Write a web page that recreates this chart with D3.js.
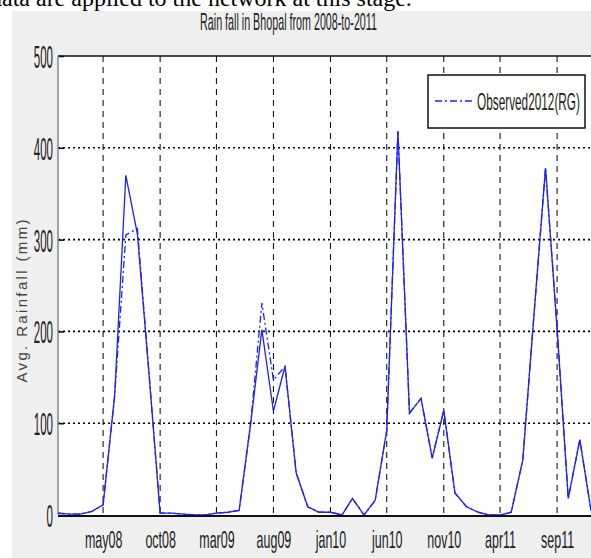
<!DOCTYPE html>
<html>
<head>
<meta charset="utf-8">
<script src="https://cdn.jsdelivr.net/npm/d3@7"></script>
<style>
  body { margin: 0; background: #fff; overflow: hidden; }
  svg { display: block; }
</style>
</head>
<body>
<div id="chart"></div>
<script>
//----------------------------- DATA -----------------------------//
// monthly rainfall, Jan 2008 .. Dec 2011
const startMonth = new Date(2008, 0, 1);
const months = d3.timeMonth.range(startMonth, new Date(2012, 0, 1));

const observed = [
  2, 1, 1, 4, 11, 130, 305, 312, 155, 2, 2, 1,        // 2008
  0, 0, 2, 3, 5, 100, 231, 147, 162, 46, 9, 3,         // 2009
  3, 0, 18, 0, 16, 92, 418, 111, 127, 62, 114, 24,     // 2010
  9, 3, 0, 0, 3, 60, 218, 378, 203, 18, 82, 5          // 2011
];
const simulated = [
  2, 1, 1, 4, 11, 130, 370, 306, 155, 2, 2, 1,
  0, 0, 2, 3, 5, 100, 202, 113, 162, 46, 9, 3,
  3, 0, 18, 0, 16, 92, 418, 111, 127, 62, 114, 24,
  9, 3, 0, 0, 3, 60, 218, 378, 203, 18, 82, 5
];

const tickLabels = ["may08", "oct08", "mar09", "aug09", "jan10", "jun10", "nov10", "apr11", "sep11"];
const tickDates = [new Date(2008, 4, 1), new Date(2008, 9, 1), new Date(2009, 2, 1), new Date(2009, 7, 1),
  new Date(2010, 0, 1), new Date(2010, 5, 1), new Date(2010, 10, 1), new Date(2011, 3, 1), new Date(2011, 8, 1)];
const yTicks = [0, 100, 200, 300, 400, 500];

const titleText = "Rain fall in Bhopal from 2008-to-2011";
const yLabel = "Avg. Rainfall (mm)";
const legendLabel = "Observed2012(RG)";

//---------------------------- SVG -------------------------------//
const width = 591, height = 558;
const plot = { left: 58, right: 591, top: 56, bottom: 515 };
const font = "Liberation Sans, Arial, sans-serif";

const svg = d3.select("#chart").append("svg")
  .attr("width", width)
  .attr("height", height)
  .attr("font-family", font);

// the figure is squashed sideways: scale each label down horizontally
function squeeze(sel, factor) {
  sel.each(function () {
    const t = d3.select(this);
    const x0 = +t.attr("x") || 0;
    t.attr("x", x0 / factor)
      .attr("transform", `scale(${factor},1)`);
  });
}
// fit a text (anchored at 0,0) to a given width, placed at px,py
function fitText(t, w, px, py) {
  const f = w / t.node().getComputedTextLength();
  t.attr("transform", `translate(${px},${py}) scale(${f},1)`);
}

// text of the surrounding document, cut at the top
svg.append("text")
  .attr("x", -10).attr("y", 6)
  .attr("font-family", "Liberation Serif, Times New Roman, serif")
  .attr("font-size", 24)
  .attr("fill", "#000")
  .text("data are applied to the network at this stage.");

// figure background
svg.append("rect")
  .attr("x", 12).attr("y", 11)
  .attr("width", width - 12).attr("height", height - 11)
  .attr("fill", "#efefef");

svg.append("rect")
  .attr("x", plot.left).attr("y", plot.top)
  .attr("width", plot.right - plot.left).attr("height", plot.bottom - plot.top)
  .attr("fill", "#fff");

//--------------------------- SCALES -----------------------------//
const x = d3.scaleTime()
  .domain([startMonth, months[months.length - 1]])
  .range([plot.left, plot.right]);
const y = d3.scaleLinear()
  .domain([0, 500])
  .range([plot.bottom, plot.top]);

//---------------------------- GRID ------------------------------//
const grid = svg.append("g");
grid.selectAll(".vgrid")
  .data(tickDates)
  .enter().append("line")
  .attr("x1", d => x(d)).attr("x2", d => x(d))
  .attr("y1", plot.top).attr("y2", plot.bottom)
  .attr("stroke", "#000")
  .attr("stroke-width", 1)
  .attr("stroke-dasharray", "6,5");

grid.selectAll(".hgrid")
  .data(yTicks.filter(d => d > 0 && d < 500))
  .enter().append("line")
  .attr("x1", plot.left).attr("x2", plot.right)
  .attr("y1", d => y(d)).attr("y2", d => y(d))
  .attr("stroke", "#000")
  .attr("stroke-width", 1.6)
  .attr("stroke-dasharray", "2,3");

//---------------------------- AXES ------------------------------//
const xAxis = d3.axisBottom(x)
  .tickValues(tickDates)
  .tickFormat((d, i) => tickLabels[i])
  .tickSize(0)
  .tickPadding(16);

const gx = svg.append("g")
  .attr("transform", `translate(0,${plot.bottom})`)
  .call(xAxis);
gx.select(".domain").remove();
gx.selectAll("text")
  .attr("font-family", font)
  .attr("font-size", 24)
  .attr("fill", "#222")
  .call(squeeze, 0.52);

const yAxis = d3.axisLeft(y)
  .tickValues(yTicks)
  .tickSize(-6)
  .tickPadding(5);

const gy = svg.append("g")
  .attr("transform", `translate(${plot.left},0)`)
  .call(yAxis);
gy.select(".domain").remove();
gy.selectAll("line").attr("stroke", "#000").attr("stroke-width", 1.5);
gy.selectAll("text")
  .attr("font-family", font)
  .attr("font-size", 32)
  .attr("dy", "0.36em")
  .attr("fill", "#222")
  .call(squeeze, 0.36);

// frame lines
svg.append("line")
  .attr("x1", plot.left).attr("x2", plot.right)
  .attr("y1", plot.top).attr("y2", plot.top)
  .attr("stroke", "#111").attr("stroke-width", 1.5);
svg.append("line")
  .attr("x1", plot.left).attr("x2", plot.left)
  .attr("y1", plot.top).attr("y2", plot.bottom)
  .attr("stroke", "#888").attr("stroke-width", 1.5);

//---------------------------- LINES -----------------------------//
const line = d3.line()
  .x((d, i) => x(months[i]))
  .y(d => y(d));

svg.append("path")
  .datum(simulated)
  .attr("d", line)
  .attr("fill", "none")
  .attr("stroke", "#1f1fff")
  .attr("stroke-width", 1.3);

svg.append("path")
  .datum(observed)
  .attr("d", line)
  .attr("fill", "none")
  .attr("stroke", "#1f1fff")
  .attr("stroke-width", 1.3)
  .attr("stroke-dasharray", "7,3,2,3");

// bottom axis line on top of the series
svg.append("line")
  .attr("x1", plot.left).attr("x2", plot.right)
  .attr("y1", plot.bottom + 1).attr("y2", plot.bottom + 1)
  .attr("stroke", "#111").attr("stroke-width", 2);

//--------------------------- LABELS -----------------------------//
const title = svg.append("text")
  .attr("text-anchor", "middle")
  .attr("font-size", 23)
  .attr("fill", "#222")
  .text(titleText);
fitText(title, 177, 288.5, 30);

svg.append("text")
  .attr("transform", "translate(27,301) rotate(-90)")
  .attr("text-anchor", "middle")
  .attr("font-size", 15)
  .attr("fill", "#444")
  .attr("textLength", 163)
  .attr("lengthAdjust", "spacing")
  .text(yLabel);

//--------------------------- LEGEND -----------------------------//
const legend = svg.append("g").attr("transform", "translate(428,75)");
legend.append("rect")
  .attr("width", 157).attr("height", 53)
  .attr("fill", "#fff")
  .attr("stroke", "#111")
  .attr("stroke-width", 1.5);
legend.append("line")
  .attr("x1", 7).attr("x2", 45)
  .attr("y1", 26).attr("y2", 26)
  .attr("stroke", "#1f1fff")
  .attr("stroke-width", 1.5)
  .attr("stroke-dasharray", "7,3,2,3");
const legendText = legend.append("text")
  .attr("font-size", 24)
  .attr("fill", "#222")
  .text(legendLabel);
fitText(legendText, 103, 49, 35);
</script>
</body>
</html>
